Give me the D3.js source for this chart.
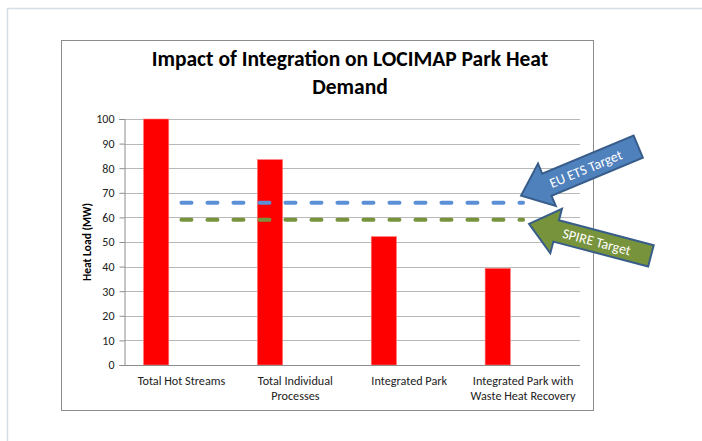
<!DOCTYPE html>
<html>
<head>
<meta charset="UTF-8" />
<title>Impact of Integration on LOCIMAP Park Heat Demand</title>
<script src="https://cdn.jsdelivr.net/npm/d3@7"></script>
<style>
  body { margin:0; background:#fff; }
  svg text { font-family: Calibri, Carlito, "Open Sans", sans-serif; }
</style>
</head>
<body>
<div id="chart"></div>
<script type="text/javascript">
var w=702,h=441;

// data
var categories=[["Total Hot Streams"],["Total Individual","Processes"],["Integrated Park"],["Integrated Park with","Waste Heat Recovery"]];
var heatLoad=[100,83.5,52.2,39.3];
var euEtsTarget=[66,66,66,66];
var spireTarget=[59,59,59,59];
var yTicks=[0,10,20,30,40,50,60,70,80,90,100];
var seriesSlots=["Heat Load","EU ETS Target","SPIRE Target"];

var svg=d3.select('#chart').append('svg')
          .attr('width',w)
          .attr('height',h);

// page frame
svg.append('line').attr('x1',7).attr('x2',w).attr('y1',8.5).attr('y2',8.5)
   .attr('stroke','#d5dde8').attr('stroke-width',1.5);
svg.append('line').attr('x1',7.5).attr('x2',7.5).attr('y1',8).attr('y2',h)
   .attr('stroke','#d5dde8').attr('stroke-width',1.5);

// chart box
svg.append('rect').attr('x',61.5).attr('y',40.5).attr('width',532).attr('height',370)
   .attr('fill','#fff').attr('stroke','#8c8c8c').attr('stroke-width',1);

svg.append('text').attr('x',350).attr('y',66).attr('text-anchor','middle')
   .style('font-size','21.5px').style('font-weight','bold').attr('fill','#000')
   .text('Impact of Integration on LOCIMAP Park Heat');
svg.append('text').attr('x',350).attr('y',94).attr('text-anchor','middle')
   .style('font-size','21.5px').style('font-weight','bold').attr('fill','#000')
   .text('Demand');

var plotL=124.5,plotR=580,plotT=119,plotB=365;

var x=d3.scaleBand().domain(d3.range(categories.length)).range([plotL,plotR]).padding(0);
var xs=d3.scaleBand().domain(seriesSlots).range([0,x.bandwidth()]).paddingInner(0).paddingOuter(0.75);
var y=d3.scaleLinear().domain([0,100]).range([plotB,plotT]);

// gridlines
svg.append('g').selectAll('line').data(yTicks).enter().append('line')
   .attr('x1',plotL).attr('x2',plotR)
   .attr('y1',function(d){return Math.round(y(d))+0.5;})
   .attr('y2',function(d){return Math.round(y(d))+0.5;})
   .attr('stroke','#b8b8b8').attr('stroke-width',1);

// y axis
var yAxis=d3.axisLeft(y).tickValues(yTicks).tickSize(5).tickPadding(5);
var gy=svg.append('g').attr('transform','translate('+plotL+',0)').call(yAxis);
gy.select('.domain').attr('stroke','#8c8c8c');
gy.selectAll('.tick line').attr('stroke','#8c8c8c');
gy.selectAll('.tick text').style('font-size','12px').attr('fill','#222')
  .style('font-family','Calibri, Carlito, "Open Sans", sans-serif');

svg.append('text').attr('transform','translate(91,'+((plotT+plotB)/2)+') rotate(-90)')
   .attr('text-anchor','middle').style('font-size','11.5px').style('font-weight','bold')
   .attr('fill','#000').text('Heat Load (MW)');

// bars
svg.append('g').selectAll('rect').data(heatLoad).enter().append('rect')
   .attr('x',function(d,i){return x(i)+xs(seriesSlots[0]);})
   .attr('width',xs.bandwidth())
   .attr('y',function(d){return y(d);})
   .attr('height',function(d){return plotB-y(d);})
   .attr('fill','#ff0000').attr('stroke','#ff8080').attr('stroke-width',0.6);

// x axis line
svg.append('line').attr('x1',plotL).attr('x2',plotR).attr('y1',plotB+0.5).attr('y2',plotB+0.5)
   .attr('stroke','#8c8c8c');

// category labels
var cl=svg.append('g').selectAll('text').data(categories).enter().append('text')
   .attr('text-anchor','middle').style('font-size','12.2px').attr('fill','#222')
   .attr('transform',function(d,i){return 'translate('+(x(i)+x.bandwidth()/2)+','+(plotB+20)+')';});
cl.selectAll('tspan').data(function(d){return d;}).enter().append('tspan')
   .attr('x',0).attr('dy',function(d,i){return i?15:0;}).text(function(d){return d;});

// target lines
var line=d3.line().x(function(d,i){return x(i)+x.bandwidth()/2;}).y(function(d){return y(d);});
svg.append('path').datum(euEtsTarget).attr('d',line).attr('fill','none')
   .attr('stroke','#5b8fd6').attr('stroke-width',4).attr('stroke-dasharray','10,16')
   .attr('stroke-linecap','round');
svg.append('path').datum(spireTarget).attr('d',line).attr('fill','none')
   .attr('stroke','#77933c').attr('stroke-width',4).attr('stroke-dasharray','10,16')
   .attr('stroke-linecap','round');

// callout arrows
function arrow(tx,ty,angle,len,shaftW,fill,label,textDy){
  var hl=28,hw=46;
  var pts=[[0,0],[hl,-hw/2],[hl,-shaftW/2],[len,-shaftW/2],[len,shaftW/2],[hl,shaftW/2],[hl,hw/2]];
  var g=svg.append('g').attr('transform','translate('+tx+','+ty+') rotate('+angle+')');
  g.append('path').attr('d','M'+pts.join('L')+'Z')
   .attr('fill',fill).attr('stroke','#385d8a').attr('stroke-width',2).attr('stroke-linejoin','miter');
  g.append('text').attr('x',70).attr('y',textDy).attr('text-anchor','middle')
   .attr('fill','#fff').style('font-size','14px').text(label);
}
var lastX=x(categories.length-1)+x.bandwidth()/2;
arrow(lastX-2,y(euEtsTarget[3])-7,-22.7,127,24,'#4f81bd','EU ETS Target',5);
arrow(lastX+6,y(spireTarget[3])+4,14.7,126,22,'#77933c','SPIRE Target',5);

</script>
</body>
</html>
